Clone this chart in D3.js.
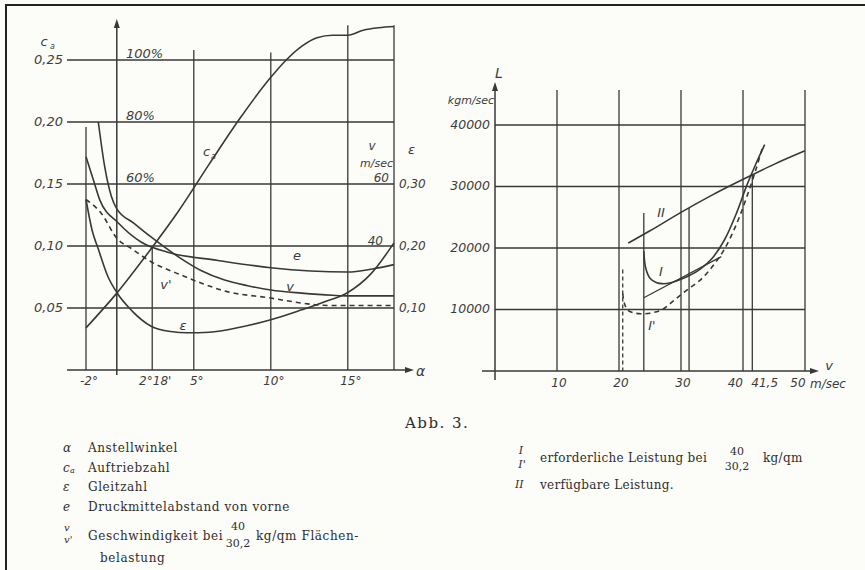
<!DOCTYPE html>
<html><head><meta charset="utf-8">
<script src="https://cdn.jsdelivr.net/npm/d3@7"></script>
<style>body{margin:0;background:#fcfcf8}</style>
</head><body><svg id="c" width="865" height="570"></svg>
<script>
// ---------- LEFT CHART DATA (alpha in degrees) ----------
const alphaTicks = [-2, 2.3, 5, 10, 15];
const alphaTickLabels = ["-2°", "2°18'", "5°", "10°", "15°"];
const caTicks = [0.05, 0.10, 0.15, 0.20, 0.25];
const caTickLabels = ["0,05", "0,10", "0,15", "0,20", "0,25"];
const epsTicks = [0.10, 0.20, 0.30];
const epsTickLabels = ["0,10", "0,20", "0,30"];
const pctLevels = [0.15, 0.20, 0.25];
const pctLabels = ["60%", "80%", "100%"];

const caAlpha = [-2, 0, 2, 4, 6, 8, 10, 11, 12, 13, 14, 15, 16, 17, 18];
const caValues = [0.034, 0.062, 0.094, 0.128, 0.166, 0.203, 0.236, 0.250, 0.261, 0.268, 0.270, 0.270, 0.274, 0.276, 0.277];

const epsAlpha = [-2, -1.6, -1.2, -0.6, 0, 1, 2.2, 3.5, 4.6, 6, 8, 10, 12, 13.5, 15, 16.5, 18];
const epsValues = [0.275, 0.225, 0.195, 0.152, 0.125, 0.095, 0.071, 0.062, 0.060, 0.061, 0.069, 0.081, 0.097, 0.110, 0.125, 0.155, 0.205];

const eAlpha = [-2, -1.5, -1.1, 0.1, 1.6, 3.3, 6.5, 10, 15, 16.6, 18];
const eValues = [0.344, 0.305, 0.274, 0.237, 0.206, 0.190, 0.177, 0.165, 0.158, 0.163, 0.170];

const vAlpha = [-1.2, -0.8, -0.35, 0, 1.1, 2.2, 4, 5.5, 7, 8.5, 10, 12, 14, 15, 18];
const vValues = [80, 66, 56, 52, 47.4, 43, 36.5, 32, 29, 27.2, 25.8, 24.8, 24.1, 23.9, 23.9];

const v2Alpha = [-2, -1, 0, 1, 2.2, 4, 5.5, 7, 10, 12, 13, 14, 18];
const v2Values = [55, 50.5, 42.5, 39, 35, 31, 28, 25.5, 23.2, 21.6, 21, 20.8, 20.8];

// ---------- RIGHT CHART DATA (v in m/sec, L in kgm/sec) ----------
const speedTicks = [10, 20, 30, 40, 41.5, 50];
const speedTickLabels = ["10", "20", "30", "40", "41,5", "50"];
const powerTicks = [10000, 20000, 30000, 40000];
const powerTickLabels = ["10000", "20000", "30000", "40000"];

const vII = [21.5, 25, 30, 35, 41.5, 45, 50];
const LII = [20800, 22800, 25800, 28600, 31900, 33600, 35800];

const vI = [24.0, 24.3, 25, 26, 27, 28.5, 30, 31.5, 33, 35, 37, 39, 40.5, 42, 43.5];
const LI = [19500, 16800, 15100, 14400, 14200, 14400, 14900, 15600, 16500, 18300, 21300, 25800, 29900, 33500, 36800];

const vIp = [20.6, 20.9, 21.4, 22.2, 23.5, 25, 27, 29, 31, 33, 35, 37, 39, 40.5, 42, 43.2];
const LIp = [12600, 10900, 9900, 9500, 9300, 9400, 10000, 11600, 13200, 14700, 16900, 19800, 24000, 28000, 32500, 36500];

const vTangent = [24, 36.5];
const LTangent = [11900, 18600];

// marker verticals (v, top L, dashed?)
const markV = [20.6, 24, 31.3, 41.5];
const markTopL = [16500, 25700, 26500, 32000];
const markDashed = [true, false, false, false];

// ---------- DRAW ----------
const svg = d3.select("#c");
const ink = "#383838";
const hand = "'DejaVu Sans', sans-serif";
const serif = "'DejaVu Serif', 'Liberation Serif', serif";

svg.append("rect").attr("width", 865).attr("height", 570).attr("fill", "#fcfcf8");
svg.append("path").attr("d", "M6,570 L6,5 L865,5").attr("fill", "none").attr("stroke", "#222").attr("stroke-width", 2);

const g = svg.append("g");

const xA = d3.scaleLinear().domain([-2, 18]).range([86, 394]);
const yCa = d3.scaleLinear().domain([0, 0.25]).range([370, 60]);
const yEps = d3.scaleLinear().domain([0, 0.5]).range([370, 60]);
const yV = d3.scaleLinear().domain([0, 100]).range([370, 60]);

function ln(x1, y1, x2, y2, w, dash) {
  const l = g.append("line").attr("x1", x1).attr("y1", y1).attr("x2", x2).attr("y2", y2)
    .attr("stroke", ink).attr("stroke-width", w || 1.3);
  if (dash) l.attr("stroke-dasharray", dash);
  return l;
}
function txt(x, y, s, opt) {
  opt = opt || {};
  const t = g.append("text").attr("x", x).attr("y", y).text(s)
    .attr("font-family", opt.font || hand).attr("font-size", opt.size || 12)
    .attr("font-style", opt.style || "italic")
    .attr("text-anchor", opt.anchor || "start").attr("fill", opt.fill || "#3c3c3c")
    .attr("dominant-baseline", opt.base || "middle");
  if (opt.ls) t.attr("letter-spacing", opt.ls);
  return t;
}

caTicks.forEach(t => ln(67, yCa(t), xA(18), yCa(t)));
const vgTop = { "-2": 0.196, "2.3": 0.10, "5": 0.258, "10": 0.256, "15": 0.278 };
alphaTicks.forEach(a => ln(xA(a), yCa(vgTop[String(a)]), xA(a), yCa(0)));
ln(xA(18), yCa(0.278), xA(18), yCa(0));
ln(67, yCa(0), 408, yCa(0), 1.5);
g.append("path").attr("d", `M${414},${yCa(0)} l-9,-3 l0,6 z`).attr("fill", ink);
ln(xA(0), yCa(0) + 5, xA(0), 26, 1.5);
g.append("path").attr("d", `M${xA(0)},19 l-3,9 l6,0 z`).attr("fill", ink);

caTickLabels.forEach((s, i) => txt(63, yCa(caTicks[i]), s, { anchor: "end", size: 13 }));
txt(44, 42, "c", { anchor: "middle", size: 13 });
txt(50, 46, "a", { size: 8 });
alphaTicks.forEach((a, i) => txt(xA(a) + 3, 381, alphaTickLabels[i], { anchor: "middle", size: 12 }));
txt(416, 372, "α", { size: 14 });
epsTicks.forEach((t, i) => txt(399, yEps(t), epsTickLabels[i], { size: 12 }));
txt(408, 150, "ε", { size: 13 });
pctLevels.forEach((p, i) => txt(126, yCa(p) - 6, pctLabels[i], { size: 13 }));
txt(372, 146, "v", { anchor: "middle", size: 12 });
txt(393, 164, "m/sec", { anchor: "end", size: 11 });
txt(389, yV(60) - 6, "60", { anchor: "end", size: 12 });
txt(383, yV(40) - 5, "40", { anchor: "end", size: 12 });

function curve(xs, ys, xsc, ysc, dash, type) {
  const pts = xs.map((x, i) => [xsc(x), ysc(ys[i])]);
  const p = g.append("path").attr("d", d3.line().curve(type || d3.curveMonotoneX)(pts))
    .attr("fill", "none").attr("stroke", ink).attr("stroke-width", 1.6);
  if (dash) p.attr("stroke-dasharray", dash);
  return p;
}
curve(caAlpha, caValues, xA, yCa);
curve(epsAlpha, epsValues, xA, yEps);
curve(eAlpha, eValues, xA, yEps);
curve(vAlpha, vValues, xA, yV);
curve(v2Alpha, v2Values, xA, yV, "5,4");

txt(203, 152, "c", { size: 13 }); txt(211, 156, "a", { size: 8 });
txt(297, 256, "e", { anchor: "middle", size: 13 });
txt(290, 287, "v", { anchor: "middle", size: 13 });
txt(183, 326, "ε", { anchor: "middle", size: 13 });
txt(166, 285, "v'", { anchor: "middle", size: 13 });

const xS = d3.scaleLinear().domain([0, 50]).range([495, 805]);
const yL = d3.scaleLinear().domain([0, 40000]).range([371, 125]);

powerTicks.forEach(t => ln(xS(0), yL(t), xS(50), yL(t)));
[10, 20, 30, 40, 50].forEach(s => ln(xS(s), 90, xS(s), yL(0)));
markV.forEach((s, i) => ln(xS(s), yL(markTopL[i]), xS(s), yL(0), 1.3, markDashed[i] ? "4,3" : null));
ln(482, yL(0), 812, yL(0), 1.5);
g.append("path").attr("d", `M${819},${yL(0)} l-9,-3 l0,6 z`).attr("fill", ink);
ln(xS(0), 380, xS(0), 90, 1.5);
g.append("path").attr("d", `M${xS(0)},82 l-3,9 l6,0 z`).attr("fill", ink);

powerTickLabels.forEach((s, i) => txt(490, yL(powerTicks[i]), s, { anchor: "end", size: 12.5 }));
txt(499, 74, "L", { anchor: "middle", size: 14 });
txt(471, 101, "kgm/sec", { anchor: "middle", size: 11 });
speedTicks.forEach((s, i) => {
  let anchor = "middle", dx = 2;
  if (s === 40) { anchor = "end"; dx = 0; }
  if (s === 41.5) { anchor = "start"; dx = -1; }
  if (s === 50) { dx = -7; }
  txt(xS(s) + dx, 383, speedTickLabels[i], { anchor: anchor, size: 12 });
});
txt(810, 384, "m/sec", { size: 12 });
txt(829, 366, "v", { anchor: "middle", size: 13 });

curve(vII, LII, xS, yL);
curve(vI, LI, xS, yL, null, d3.curveCatmullRom.alpha(0.5));
curve(vIp, LIp, xS, yL, "5,4", d3.curveCatmullRom.alpha(0.5));
curve(vTangent, LTangent, xS, yL, null, d3.curveLinear).attr("stroke-width", 1.2);

txt(661, 213, "II", { anchor: "middle", size: 13 });
txt(661, 272, "I", { anchor: "middle", size: 13 });
txt(652, 326, "I'", { anchor: "middle", size: 13 });

// ---------- CAPTION & LEGEND ----------
const so = { font: serif, style: "normal", size: 12, fill: "#2e2e2e", ls: 0.6 };
const ext = (o) => Object.assign({}, so, o);
txt(405, 424, "Abb. 3.", ext({ size: 15, ls: 1.5 }));

const legSym = ["α", "c", "ε", "e"];
const legText = ["Anstellwinkel", "Auftriebzahl", "Gleitzahl", "Druckmittelabstand von vorne"];
const legY = [448, 468, 487, 507];
legSym.forEach((s, i) => {
  txt(63, legY[i], s, ext({ style: "italic", ls: 0 }));
  txt(88, legY[i], legText[i], so);
});
txt(70, 471, "a", ext({ style: "italic", size: 8, ls: 0 }));
txt(64, 528, "v", ext({ style: "italic", size: 10, ls: 0 }));
txt(64, 540, "v'", ext({ style: "italic", size: 10, ls: 0 }));
txt(88, 536, "Geschwindigkeit bei", so);
txt(238, 527, "40", ext({ size: 11, anchor: "middle", ls: 0 }));
txt(238, 544, "30,2", ext({ size: 11, anchor: "middle", ls: 0 }));
txt(256, 536, "kg/qm Flächen-", so);
txt(100, 558, "belastung", so);

txt(521, 451, "I", ext({ style: "italic", size: 11, anchor: "middle", ls: 0 }));
txt(522, 465, "I'", ext({ style: "italic", size: 11, anchor: "middle", ls: 0 }));
txt(540, 458, "erforderliche Leistung bei", ext({ ls: 0.3 }));
txt(737, 452, "40", ext({ size: 11, anchor: "middle", ls: 0 }));
txt(737, 467, "30,2", ext({ size: 11, anchor: "middle", ls: 0 }));
txt(763, 458, "kg/qm", ext({ ls: 0.3 }));
txt(515, 485, "II", ext({ style: "italic", size: 11, ls: 0 }));
txt(540, 485, "verfügbare Leistung.", ext({ ls: 0.3 }));
</script></body></html>
